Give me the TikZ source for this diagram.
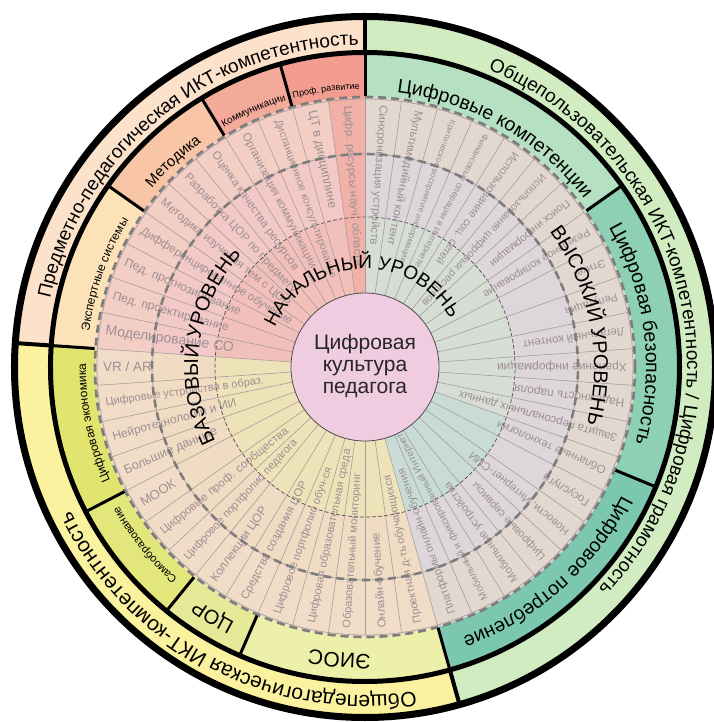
\documentclass[tikz,border=0pt]{standalone}
\usepackage{fontspec}
\setmainfont{Liberation Sans}
\usetikzlibrary{decorations.text}
\definecolor{oPeach}{HTML}{FCE1CB}
\definecolor{oGreen}{HTML}{D2ECC2}
\definecolor{oYellow}{HTML}{FBF29F}
\definecolor{cProf}{HTML}{F29D8F}
\definecolor{cKomm}{HTML}{F4AA9A}
\definecolor{cMet}{HTML}{F8C6A6}
\definecolor{cExp}{HTML}{FCE2B6}
\definecolor{cEcon}{HTML}{E1E56F}
\definecolor{cSamo}{HTML}{E3E67B}
\definecolor{cCOR}{HTML}{E6EA98}
\definecolor{cEIOS}{HTML}{EDF0A8}
\definecolor{cPotr}{HTML}{7CC7AF}
\definecolor{cBez}{HTML}{8DD0B3}
\definecolor{cKomp}{HTML}{B5E1C2}
\definecolor{aOut}{HTML}{F2CEC4}
\definecolor{aMid}{HTML}{F3C9C7}
\definecolor{aIn}{HTML}{F2C0BA}
\definecolor{aCol}{HTML}{F1B1A8}
\definecolor{bOut}{HTML}{F1DDC7}
\definecolor{bMid}{HTML}{F0DBC3}
\definecolor{bIn}{HTML}{EEE3B8}
\definecolor{cOut}{HTML}{E3D8D0}
\definecolor{cMid}{HTML}{DDD6DA}
\definecolor{cIn}{HTML}{D5DDD4}
\definecolor{cInT}{HTML}{C8DCD5}
\definecolor{coreFill}{HTML}{F0CCE0}
\definecolor{lblgray}{HTML}{9E8F94}
\definecolor{spokegray}{HTML}{A89C9C}
\definecolor{dashgray}{HTML}{7D7D7D}
\newcommand\ringseg[5]{\fill[#5] (#3:#1) arc[start angle=#3,end angle=#4,radius=#1] -- (#4:#2) arc[start angle=#4,end angle=#3,radius=#2] -- cycle;}
\newcommand\curvlabel[5]{\path[decorate,decoration={text along path,text align=center,text={|\fontsize{#4}{#4}\selectfont|#5}}] ({#2+#3}:#1) arc[start angle={#2+#3},end angle={#2-#3},radius=#1];}
\def\st{7.8260869}
\begin{document}
\begin{tikzpicture}[x=1pt,y=1pt,
  itemlbl/.style={inner sep=0pt, text=lblgray, anchor=west},
  spoke/.style={draw=spokegray, line width=0.6pt},
  dashring/.style={draw=dashgray, line width=2.6pt, dash pattern=on 8pt off 5pt},
  thinring/.style={draw=spokegray, line width=0.7pt}]
\fill[white] (-365,-355) rectangle (348,367);
\useasboundingbox (-365,-355) rectangle (348,367);
% outer band
\ringseg{314}{350}{90}{176.087}{oPeach}
\ringseg{314}{350}{176.087}{285.652}{oYellow}
\ringseg{314}{350}{-74.348}{90}{oGreen}
% category band
\ringseg{268}{314}{90}{105.652}{cProf}
\ringseg{268}{314}{105.652}{121.304}{cKomm}
\ringseg{268}{314}{121.304}{144.783}{cMet}
\ringseg{268}{314}{144.783}{176.087}{cExp}
\ringseg{268}{314}{176.087}{207.391}{cEcon}
\ringseg{268}{314}{207.391}{230.870}{cSamo}
\ringseg{268}{314}{230.870}{246.522}{cCOR}
\ringseg{268}{314}{246.522}{285.652}{cEIOS}
\ringseg{268}{314}{-74.348}{-22.4}{cPotr}
\ringseg{268}{314}{-22.4}{35.217}{cBez}
\ringseg{268}{314}{35.217}{90}{cKomp}
% spoke region
\ringseg{213}{270}{90}{176.087}{aOut}
\ringseg{150}{213}{90}{176.087}{aMid}
\ringseg{74}{150}{90}{176.087}{aIn}
\ringseg{74}{270}{90}{97.826}{aCol}
\ringseg{213}{270}{176.087}{285.652}{bOut}
\ringseg{150}{213}{176.087}{285.652}{bMid}
\ringseg{74}{150}{176.087}{285.652}{bIn}
\ringseg{213}{270}{-74.348}{90}{cOut}
\ringseg{150}{213}{-74.348}{90}{cMid}
\ringseg{74}{150}{-19.6}{90}{cIn}
\ringseg{74}{150}{-74.348}{-19.6}{cInT}
% thin rings
\draw[thinring] (0,0) circle[radius=213];
\draw[thinring] (0,0) circle[radius=268];
\draw[draw=black!70, line width=0.7pt, dash pattern=on 4pt off 2pt] (0,0) circle[radius=150];
% spokes
\foreach \i in {0,...,45} \draw[spoke] ({90+\i*\st}:74) -- ({90+\i*\st}:268);
% item labels, left half
\foreach \s/\t [count=\j from 0] in {
 11.5/{Цифр. ресурсы науч. области},12.5/{ЦТ в дисциплине},10.5/{Дистанционное консультирование},
 11.5/{Организация коммуникации},11.5/{Оценка качества ресурсов},11.5/{Разработка ЦОР по предмету},
 11.5/{Методика изучения тем с ЦОР},11.5/{Дифференцированное обучение},12/{Пед. прогнозирование},
 12/{Пед. проектирование},14/{Моделирование СО},13.5/{VR \slash{} AR},11/{Цифровые устройства в образ.},
 12/{Нейротехнологии и ИИ},12.5/{Большие данные},13/{МООК},11.5/{Цифровые проф. сообщества},
 11/{Цифровое портфолио педагога},12/{Коллекции ЦОР},11.5/{Средства создания ЦОР},
 11/{Цифровое портфолио обуч-ся},11/{Цифровая образовательная среда},11/{Образовательный мониторинг},
 11.5/{Онлайн-обучение},11/{Проектная д-ть обучающихся}}
 \node[itemlbl, font=\fontsize{\s}{\s}\selectfont, rotate={270+(\j+0.5)*\st}] (L\j) at ({90+(\j+0.5)*\st}:262) {\t};
% item labels, right half
\foreach \s/\t [count=\k from 0] in {
 11.5/{Синхронизация устройств},11.5/{Мультимедийный контент},8.5/{Критическое восприятие информации},
 9/{Финансовые операции в Интернете},11/{Использование соц. сетей},10.5/{Использование цифровых ресурсов},
 11/{Поиск информации},11/{Резервное копирование},11/{Этикет},11/{Репутация},11.5/{Легальный контент},
 12/{Хранение информации},12/{Надежность пароля},11.5/{Защита персональных данных},
 11.5/{Облачные технологии},11.5/{Госуслуги},11/{Новости, Интернет-СМИ},11/{Цифровые сервисы},
 11/{Мобильные устройства},10/{Мобильный и фиксированный Интернет},11/{Платформы онлайн-обучения}}
 \node[itemlbl, font=\fontsize{\s}{\s}\selectfont, rotate={270-(\k+0.5)*\st}] (R\k) at ({90-(\k+0.5)*\st}:262) {\t};
% dashed level rings
\draw[dashring] (0,0) circle[radius=213];
\draw[dashring] (0,0) circle[radius=270];
% black structure
\draw[line width=7pt] (0,0) circle[radius=350.5];
\draw[line width=5pt] (0,0) circle[radius=314.5];
\foreach \a in {90,176.087,-74.348} \draw[line width=4pt] (\a:314) -- (\a:350);
\foreach \a in {90,105.652,121.304,144.783,176.087,207.391,230.870,246.522,-74.348,-22.4,35.217}
  \draw[line width=3pt] (\a:271) -- (\a:314);
% core
\draw[fill=coreFill, draw=black!70, line width=0.8pt] (0,0) circle[radius=74];
\node[align=center, font=\fontsize{21}{22}\selectfont, text=black!85] (core) at (0,1) {Цифровая\\культура\\педагога};
% level labels
\curvlabel{98}{93}{80}{19}{НАЧАЛЬНЫЙ УРОВЕНЬ}
\curvlabel{167}{172}{60}{20}{БАЗОВЫЙ УРОВЕНЬ}
\curvlabel{229}{11}{45}{20}{ВЫСОКИЙ УРОВЕНЬ}
% category labels
\curvlabel{276}{60.4}{27}{19.5}{Цифровые компетенции}
\curvlabel{281}{7}{28}{19.5}{Цифровая безопасность}
\curvlabel{287}{-48.3}{26}{19.5}{Цифровое потребление}
\curvlabel{287}{265}{18}{21}{ЭИОС}
\curvlabel{287}{238.7}{8}{20}{ЦОР}
\curvlabel{283}{219}{12}{11}{Самообразование}
\curvlabel{279}{191.7}{16}{12}{Цифровая экономика}
\curvlabel{278}{160.4}{16}{12}{Экспертные системы}
\curvlabel{278}{133}{12}{15}{Методика}
\curvlabel{278}{113.5}{8}{10}{Коммуникации}
\curvlabel{278}{98}{8}{9}{Проф. развитие}
% outer labels
\curvlabel{322}{129.5}{45}{19}{Предметно-педагогическая ИКТ-компетентность}
\curvlabel{322}{12}{70}{19}{Общепользовательская ИКТ-компетентность / Цифровая грамотность}
\curvlabel{328}{242.5}{45}{21}{Общепедагогическая ИКТ-компетентность}
\end{tikzpicture}
\end{document}
